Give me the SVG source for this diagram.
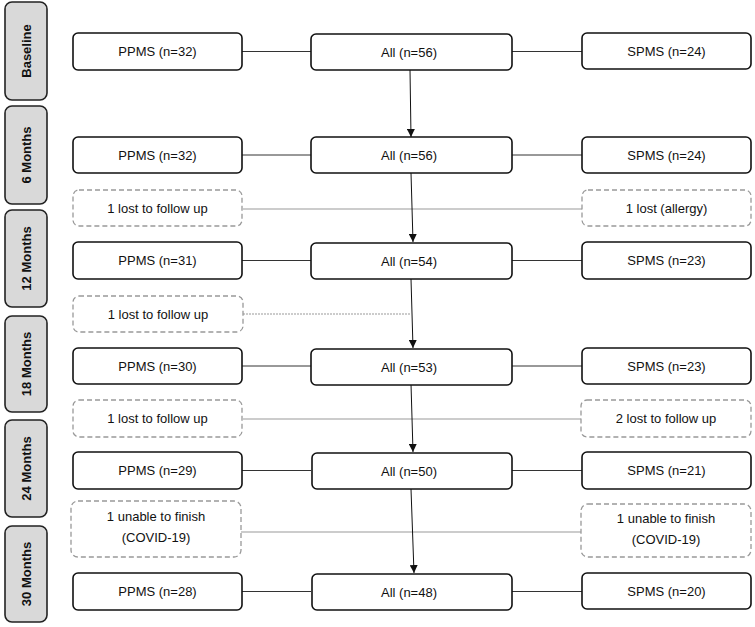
<svg xmlns="http://www.w3.org/2000/svg" width="755" height="627" viewBox="0 0 755 627">
<style>
text{font-family:"Liberation Sans",Arial,sans-serif;font-size:13px;fill:#111;text-anchor:middle;dominant-baseline:central}
.lab rect{fill:#d9d9d9;stroke:#222;stroke-width:1.6}
.lab text{font-weight:bold}
.box rect{fill:#fff;stroke:#111;stroke-width:1.6}
.drop rect{fill:#fff;stroke:#999;stroke-width:1.3;stroke-dasharray:5 3}
.link{stroke:#333;stroke-width:1;fill:none}
.glink{stroke:#999;stroke-width:1;fill:none}
.arr{stroke:#111;stroke-width:1;fill:none;marker-end:url(#ah)}
</style>
<defs>
<marker id="ah" viewBox="0 0 10 10" refX="10" refY="5" markerWidth="8" markerHeight="8" markerUnits="userSpaceOnUse" orient="auto">
<path d="M0,0 L10,5 L0,10 z" fill="#111"/>
</marker>
</defs>
<rect width="755" height="627" fill="#fff"/>
<g id="connectors">
<line class="link" x1="242" y1="51.5" x2="311" y2="51.5"/>
<line class="link" x1="512" y1="51.5" x2="582" y2="51.5"/>
<line class="link" x1="242" y1="155" x2="311" y2="155"/>
<line class="link" x1="512" y1="155" x2="582" y2="155"/>
<line class="link" x1="242" y1="260.5" x2="311" y2="260.5"/>
<line class="link" x1="512" y1="260.5" x2="582" y2="260.5"/>
<line class="link" x1="242" y1="366" x2="311" y2="366"/>
<line class="link" x1="512" y1="366" x2="582" y2="366"/>
<line class="link" x1="242" y1="470.5" x2="311" y2="470.5"/>
<line class="link" x1="512" y1="470.5" x2="582" y2="470.5"/>
<line class="link" x1="242" y1="591.5" x2="311" y2="591.5"/>
<line class="link" x1="512" y1="591.5" x2="582" y2="591.5"/>
<line class="glink" x1="243" y1="209" x2="582" y2="209"/>
<line class="glink" x1="243" y1="314" x2="411" y2="314" stroke-dasharray="2 1" stroke-width="0.8"/>
<line class="glink" x1="243" y1="419" x2="581" y2="419"/>
<line class="glink" x1="241" y1="532" x2="581" y2="532"/>
<line class="arr" x1="410" y1="70" x2="411" y2="137"/>
<line class="arr" x1="411" y1="173" x2="413" y2="242"/>
<line class="arr" x1="411" y1="279" x2="413" y2="348"/>
<line class="arr" x1="411" y1="384" x2="413" y2="452"/>
<line class="arr" x1="411" y1="489" x2="414" y2="573"/>
</g>
<g id="lab-baseline" class="lab"><rect x="5" y="2" width="42" height="98" rx="7"/><text transform="translate(26,51) rotate(-90)">Baseline</text></g>
<g id="lab-6" class="lab"><rect x="5" y="106" width="42" height="98" rx="7"/><text transform="translate(26,155) rotate(-90)">6 Months</text></g>
<g id="lab-12" class="lab"><rect x="5" y="210" width="42" height="97" rx="7"/><text transform="translate(26,258.5) rotate(-90)">12 Months</text></g>
<g id="lab-18" class="lab"><rect x="5" y="316" width="42" height="96" rx="7"/><text transform="translate(26,364) rotate(-90)">18 Months</text></g>
<g id="lab-24" class="lab"><rect x="5" y="420" width="42" height="97" rx="7"/><text transform="translate(26,468.5) rotate(-90)">24 Months</text></g>
<g id="lab-30" class="lab"><rect x="5" y="526" width="42" height="96" rx="7"/><text transform="translate(26,574) rotate(-90)">30 Months</text></g>

<g id="ppms-0" class="box"><rect x="73" y="33" width="169" height="37" rx="5"/><text x="157.5" y="51.5">PPMS (n=32)</text></g>
<g id="all-0" class="box"><rect x="311" y="34" width="201" height="36" rx="5"/><text x="409" y="52">All (n=56)</text></g>
<g id="spms-0" class="box"><rect x="582" y="33" width="169" height="36" rx="5"/><text x="666.5" y="51">SPMS (n=24)</text></g>

<g id="ppms-6" class="box"><rect x="73" y="137" width="169" height="36" rx="5"/><text x="157.5" y="155">PPMS (n=32)</text></g>
<g id="all-6" class="box"><rect x="311" y="137" width="201" height="36" rx="5"/><text x="409" y="155">All (n=56)</text></g>
<g id="spms-6" class="box"><rect x="582" y="137" width="169" height="36" rx="5"/><text x="666.5" y="155">SPMS (n=24)</text></g>

<g id="drop-l-1" class="drop"><rect x="73" y="190" width="169" height="36" rx="6"/><text x="157.5" y="208">1 lost to follow up</text></g>
<g id="drop-r-1" class="drop"><rect x="582" y="190" width="169" height="36" rx="6"/><text x="666.5" y="208">1 lost (allergy)</text></g>

<g id="ppms-12" class="box"><rect x="73" y="242" width="169" height="37" rx="5"/><text x="157.5" y="260.5">PPMS (n=31)</text></g>
<g id="all-12" class="box"><rect x="311" y="243" width="201" height="36" rx="5"/><text x="409" y="261">All (n=54)</text></g>
<g id="spms-12" class="box"><rect x="582" y="242" width="169" height="37" rx="5"/><text x="666.5" y="260.5">SPMS (n=23)</text></g>

<g id="drop-l-2" class="drop"><rect x="73" y="296" width="170" height="36" rx="6"/><text x="158" y="314">1 lost to follow up</text></g>

<g id="ppms-18" class="box"><rect x="73" y="348" width="169" height="36" rx="5"/><text x="157.5" y="366">PPMS (n=30)</text></g>
<g id="all-18" class="box"><rect x="311" y="349" width="201" height="36" rx="5"/><text x="409" y="367">All (n=53)</text></g>
<g id="spms-18" class="box"><rect x="582" y="348" width="169" height="36" rx="5"/><text x="666.5" y="366">SPMS (n=23)</text></g>

<g id="drop-l-3" class="drop"><rect x="73" y="400" width="169" height="37" rx="6"/><text x="157.5" y="418.5">1 lost to follow up</text></g>
<g id="drop-r-3" class="drop"><rect x="581" y="400" width="170" height="37" rx="6"/><text x="666" y="418.5">2 lost to follow up</text></g>

<g id="ppms-24" class="box"><rect x="73" y="452" width="169" height="37" rx="5"/><text x="157.5" y="470.5">PPMS (n=29)</text></g>
<g id="all-24" class="box"><rect x="312" y="453" width="200" height="36" rx="5"/><text x="409" y="471">All (n=50)</text></g>
<g id="spms-24" class="box"><rect x="582" y="452" width="169" height="37" rx="5"/><text x="666.5" y="470.5">SPMS (n=21)</text></g>

<g id="drop-l-4" class="drop"><rect x="71" y="501" width="170" height="56" rx="7"/><text x="156" y="516">1 unable to finish</text><text x="156" y="537">(COVID-19)</text></g>
<g id="drop-r-4" class="drop"><rect x="581" y="504" width="170" height="53" rx="7"/><text x="666" y="518">1 unable to finish</text><text x="666" y="539">(COVID-19)</text></g>

<g id="ppms-30" class="box"><rect x="73" y="573" width="169" height="37" rx="5"/><text x="157.5" y="591.5">PPMS (n=28)</text></g>
<g id="all-30" class="box"><rect x="312" y="574" width="200" height="36" rx="5"/><text x="409" y="592">All (n=48)</text></g>
<g id="spms-30" class="box"><rect x="582" y="573" width="169" height="36" rx="5"/><text x="666.5" y="591">SPMS (n=20)</text></g>
</svg>
